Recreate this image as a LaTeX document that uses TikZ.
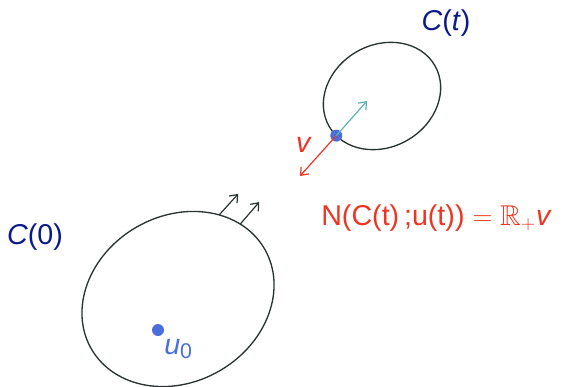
\documentclass[tikz,border=0pt]{standalone}
\usepackage{amssymb}
\usepackage{fontspec}
\setmainfont{Liberation Sans}
\usetikzlibrary{arrows.meta,calc}
\definecolor{navyc}{HTML}{0B1A8A}
\definecolor{redc}{HTML}{EE3524}
\definecolor{bluec}{HTML}{4A6FDC}
\definecolor{tealc}{HTML}{5BB5B0}
\definecolor{strokec}{HTML}{2A3333}
\tikzset{
  setc/.style={draw=strokec, line width=1pt},
  lbl/.style={inner sep=0pt, font=\fontsize{21.5}{25}\selectfont},
  arr/.style={line width=0.9pt, -{Straight Barb[length=5pt,width=8pt]}},
  dotc/.style={circle, fill=bluec, inner sep=0pt, minimum size=9pt}
}
\begin{document}
\begin{tikzpicture}[x=0.75pt,y=0.75pt]
\useasboundingbox (0,0) rectangle (563,386);
% big set C(0)
\begin{scope}[shift={(178,87)}, rotate=30]
  \draw[setc] (0,0) ellipse (100 and 83);
  \coordinate (a1) at (39:100 and 83);
  \coordinate (a2) at (24:100 and 83);
\end{scope}
% small set C(t)
\begin{scope}[shift={(382,290)}, rotate=30]
  \draw[setc] (0,0) ellipse (61 and 51);
  \coordinate (pc) at (193:61 and 51);
\end{scope}
\coordinate (a1e) at ($(a1)+(19,21)$);
\coordinate (a2e) at ($(a2)+(19,22)$);
\draw[arr, strokec] (a1) -- (a1e);
\draw[arr, strokec] (a2) -- (a2e);
\node[dotc] (p) at (pc) {};
\coordinate (te) at (367,285);
\coordinate (re) at (300,210);
\draw[arr, tealc] (p.center) -- (te);
\draw[arr, redc] (p.center) -- (re);
\node[dotc] (u0) at (158,56) {};
% labels
\node[lbl, text=navyc] (lct) at (446,363) {\textit{C}(\textit{t})};
\node[lbl, text=navyc] (lc0) at (35,149) {\textit{C}(0)};
\node[lbl, text=redc] (lv) at (304,241) {\textit{v}};
\node[lbl, text=redc, anchor=west] (lN) at (321,168) {N(C(t)\,;u(t)) $=\mathbb{R}_+$\textit{v}};
\node[lbl, text=bluec, anchor=west] (lu) at (164,37) {\textit{u}\raisebox{-0.3ex}{\fontsize{16}{16}\selectfont 0}};
\end{tikzpicture}
\end{document}
